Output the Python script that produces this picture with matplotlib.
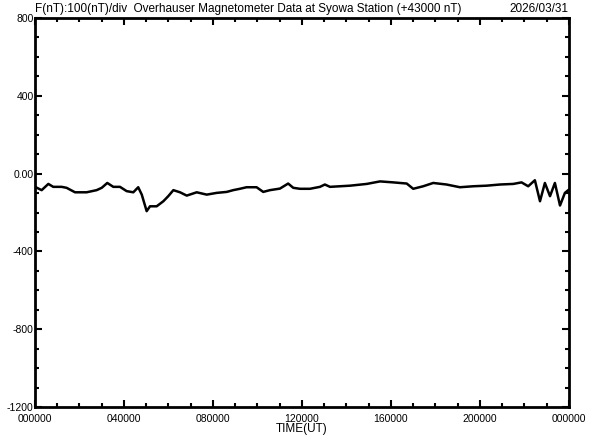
import matplotlib.pyplot as plt
import numpy as np

# 時刻(UT, 時間) と 全磁力 (+43000 nT からの差)
hours = [0.00, 0.30, 0.60, 0.82, 1.20, 1.42, 1.80, 2.32, 2.77, 3.00,
         3.25, 3.52, 3.82, 4.12, 4.42, 4.64, 4.80, 5.02, 5.17, 5.47,
         5.77, 5.99, 6.22, 6.52, 6.82, 7.27, 7.72, 8.17, 8.62, 8.91,
         9.21, 9.51, 9.96, 10.26, 10.56, 11.01, 11.38, 11.61, 11.91, 12.36,
         12.81, 13.03, 13.26, 14.16, 14.91, 15.51, 16.10, 16.71, 17.00, 17.45,
         17.90, 18.50, 19.10, 19.70, 20.30, 20.90, 21.50, 21.87, 22.17, 22.47,
         22.70, 22.92, 23.15, 23.37, 23.60, 23.82, 23.97]
dF = [-68, -85, -53, -68, -68, -73, -96, -96, -85, -73,
      -48, -68, -68, -90, -96, -70, -108, -193, -168, -168,
      -142, -116, -85, -96, -113, -96, -108, -99, -94, -85,
      -78, -70, -70, -94, -85, -77, -51, -73, -78, -78,
      -68, -56, -68, -62, -53, -40, -45, -51, -78, -65,
      -48, -56, -70, -65, -62, -56, -53, -45, -65, -34,
      -142, -48, -116, -48, -164, -99, -85]

xticks = [0, 4, 8, 12, 16, 20, 24]
xlabels = ['000000', '040000', '080000', '120000', '160000', '200000', '000000']
yticks = [800, 400, 0, -400, -800, -1200]
ylabels = ['800', '400', '0.00', '-400', '-800', '-1200']

plt.rcParams['font.family'] = ['Liberation Sans', 'DejaVu Sans']

fig = plt.figure(figsize=(5.92, 4.40), dpi=100)
ax = fig.add_axes([0.0591, 0.075, 0.9019, 0.884])

ax.plot(hours, dF, color='black', lw=1.8)

ax.set_xlim(0, 24)
ax.set_ylim(-1200, 800)
ax.set_xticks(xticks)
ax.set_xticklabels(xlabels)
ax.set_xticks(np.arange(0, 25, 1), minor=True)
ax.set_yticks(yticks)
ax.set_yticklabels(ylabels)
ax.set_yticks(np.arange(-1200, 801, 100), minor=True)

ax.tick_params(which='both', direction='in', top=True, right=True,
               labelsize=7.5, pad=1, width=1.5)
ax.tick_params(axis='x', which='major', pad=5)
ax.tick_params(which='major', length=5)
ax.tick_params(which='minor', length=3)
for s in ax.spines.values():
    s.set_linewidth(2)

ax.set_xlabel('TIME(UT)', fontsize=8.5, labelpad=-1)
fig.text(0.0591, 0.966, 'F(nT):100(nT)/div  Overhauser Magnetometer Data at Syowa Station (+43000 nT)',
         fontsize=8.5, ha='left', va='bottom')
fig.text(0.961, 0.966, '2026/03/31', fontsize=8.5, ha='right', va='bottom')

fig.savefig('out.png', dpi=100)
